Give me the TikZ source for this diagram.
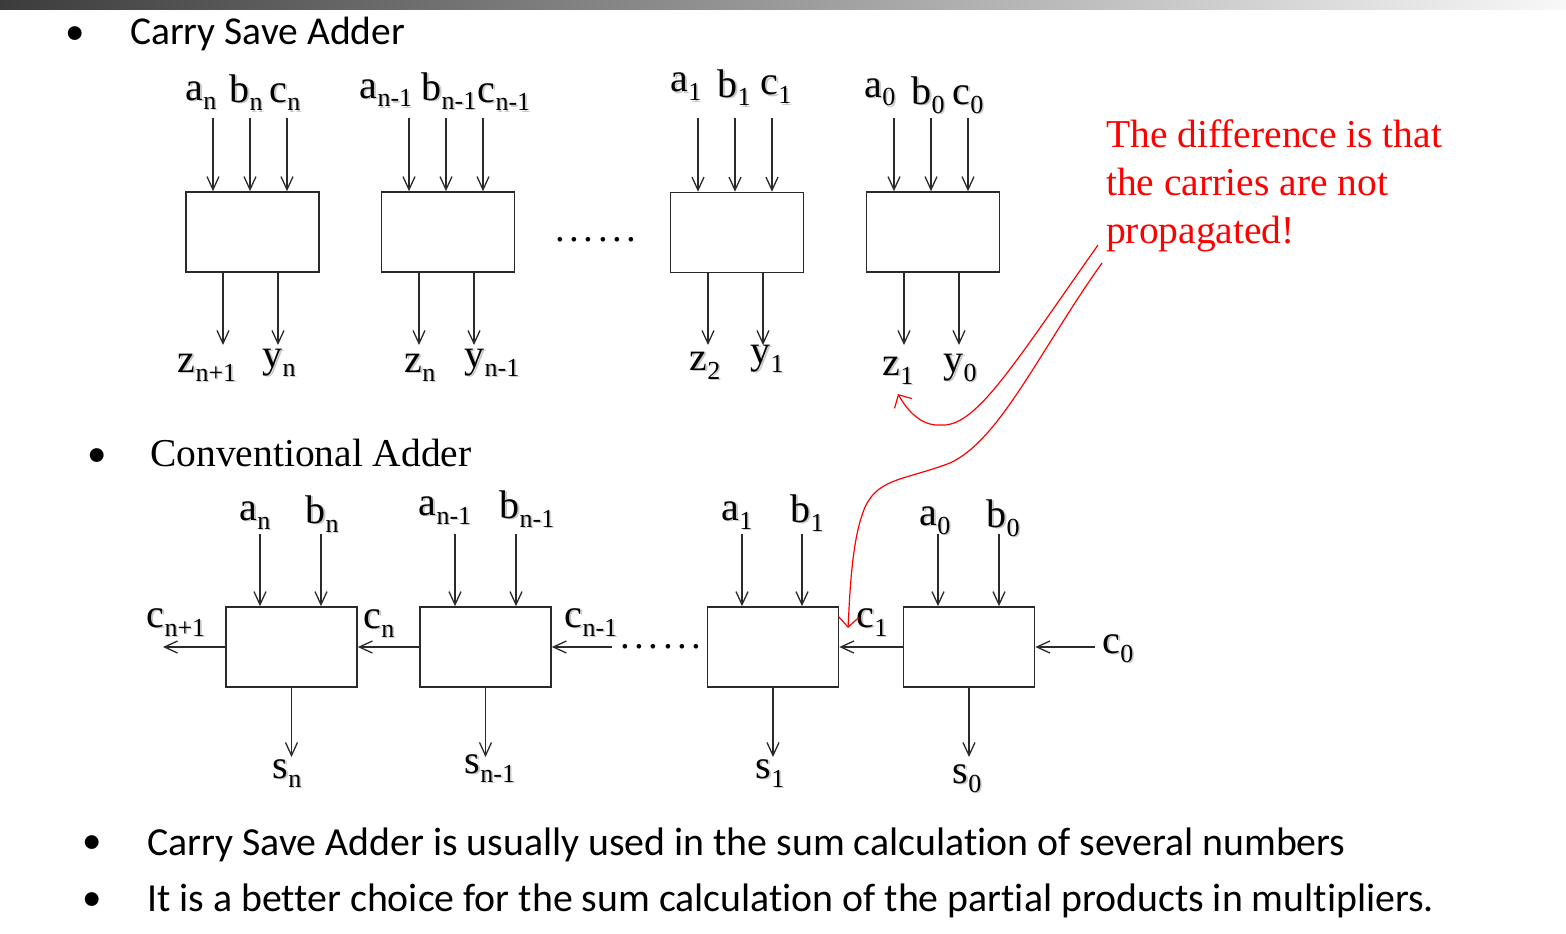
\documentclass[tikz,border=0pt]{standalone}
\usepackage{fontspec}
\setmainfont{Liberation Serif}
\newfontfamily\calibri[Ligatures=NoCommon]{Carlito}
\usetikzlibrary{arrows.meta}
\definecolor{boxline}{HTML}{2A2A2A}
\definecolor{barleft}{HTML}{3C3C3C}
\definecolor{barright}{HTML}{F8F8F8}
\definecolor{shadowgray}{HTML}{C8C8C8}
\newcommand{\lbtxt}[2]{#1\raisebox{-9pt}{\fontsize{26}{26}\selectfont #2}}
\newcommand{\lb}[2]{\makebox[0pt][l]{\hspace{1.6pt}\raisebox{-1.6pt}{\color{shadowgray}\lbtxt{#1}{#2}}}\lbtxt{#1}{#2}}
\begin{document}
\begin{tikzpicture}[x=1pt,y=-1pt,
  blk/.style={draw=boxline, line width=1.7pt, minimum width=133pt, minimum height=80pt, inner sep=0pt},
  blkb/.style={blk, minimum width=131pt},
  sig/.style={-{Straight Barb[length=13pt,width=12pt]}, line width=1.3pt, draw=boxline},
  redsig/.style={-{Straight Barb[length=10pt,width=20pt]}, line width=1.2pt, draw=red},
  lbl/.style={anchor=base, inner sep=0pt, font=\fontsize{40}{40}\selectfont},
  bul/.style={anchor=base, inner sep=0pt, font=\calibri\fontsize{39}{39}\selectfont},
  sans/.style={anchor=base west, inner sep=0pt, font=\calibri\fontsize{39.5}{39.5}\selectfont},
  sansb/.style={anchor=base west, inner sep=0pt, font=\calibri\fontsize{39.8}{39.8}\selectfont},
  serif/.style={anchor=base west, inner sep=0pt, font=\fontsize{39.5}{39.5}\selectfont},
  note/.style={anchor=base west, inner sep=0pt, text=red, font=\fontsize{39.5}{48}\selectfont},
  dots/.style={anchor=base, inner sep=0pt, font=\fontsize{39}{39}\selectfont}
]
\useasboundingbox (0,0) rectangle (1566,934);
\fill[white] (0,0) rectangle (1566,934);
\shade[left color=barleft, right color=barright] (0,0) rectangle (1566,10);

% headings
\node[bul] (bu1) at (75,45) {•};
\node[sans] (h1) at (130,45) {Carry Save Adder};
\node[bul] (bu2) at (97,466) {•};
\node[serif] (h2) at (150,466) {Conventional Adder};
\node[bul] (bu3) at (92,853) {•};
\node[sansb] (h3) at (147,855) {Carry Save Adder is usually used in the sum calculation of several numbers};
\node[bul] (bu4) at (92,910) {•};
\node[sansb] (h4) at (147,911) {It is a better choice for the sum calculation of the partial products in multipliers.};

% ---------- carry save adder ----------
\node[blk] (t1) at (252.5,232) {};
\node[blk] (t2) at (448,232) {};
\node[blk] (t3) at (737,232.5) {};
\node[blk] (t4) at (933,232) {};

\node[lbl] (lan) at (201,100) {\lb{a}{n}};
\node[lbl] (lbn) at (246,102) {\lb{b}{n}};
\node[lbl] (lcn) at (285,102) {\lb{c}{n}};
\node[lbl] (lam) at (386,98) {\lb{a}{n-1}};
\node[lbl] (lbm) at (449,100) {\lb{b}{n-1}};
\node[lbl] (lcm) at (504,102) {\lb{c}{n-1}};
\node[lbl] (la1) at (686,92) {\lb{a}{1}};
\node[lbl] (lb1) at (734,97) {\lb{b}{1}};
\node[lbl] (lc1) at (776,95) {\lb{c}{1}};
\node[lbl] (la0) at (880,97) {\lb{a}{0}};
\node[lbl] (lb0) at (928,104) {\lb{b}{0}};
\node[lbl] (lc0) at (968,104) {\lb{c}{0}};

\foreach \b/\x in {t1/213,t1/250,t1/287,t2/409,t2/446,t2/483,t3/698,t3/735,t3/772,t4/894,t4/931,t4/968}{
  \coordinate (s) at (\x,118);
  \draw[sig] (s) -- (s |- \b.north);
}
\foreach \b/\x in {t1/223,t1/278,t2/419,t2/474,t3/708,t3/763,t4/904,t4/959}{
  \coordinate (e) at (\x,345);
  \draw[sig] (e |- \b.south) -- (e);
}

\node[lbl] (lz1) at (207,372) {\lb{z}{n+1}};
\node[lbl] (ly1) at (279,367) {\lb{y}{n}};
\node[lbl] (lz2) at (420,372) {\lb{z}{n}};
\node[lbl] (ly2) at (492,367) {\lb{y}{n-1}};
\node[lbl] (lz3) at (705,370) {\lb{z}{2}};
\node[lbl] (ly3) at (767,363) {\lb{y}{1}};
\node[lbl] (lz4) at (898,375) {\lb{z}{1}};
\node[lbl] (ly4) at (960,372) {\lb{y}{0}};

\node[dots] (d1) at (596,241) {.\hspace{4.6pt}.\hspace{4.6pt}.\hspace{4.6pt}.\hspace{4.6pt}.\hspace{4.6pt}.};

% ---------- conventional adder ----------
\node[blkb] (c1) at (291.5,647) {};
\node[blkb] (c2) at (485.5,647) {};
\node[blkb] (c3) at (773,647) {};
\node[blkb] (c4) at (969,647) {};

\node[lbl] (ban) at (255,520) {\lb{a}{n}};
\node[lbl] (bbn) at (322,523) {\lb{b}{n}};
\node[lbl] (bam) at (445,515) {\lb{a}{n-1}};
\node[lbl] (bbm) at (527,518) {\lb{b}{n-1}};
\node[lbl] (ba1) at (737,520) {\lb{a}{1}};
\node[lbl] (bb1) at (807,522) {\lb{b}{1}};
\node[lbl] (ba0) at (935,525) {\lb{a}{0}};
\node[lbl] (bb0) at (1003,527) {\lb{b}{0}};

\foreach \b/\x in {c1/260,c1/321,c2/455,c2/516,c3/742,c3/802,c4/938,c4/999}{
  \coordinate (s) at (\x,534);
  \draw[sig] (s) -- (s |- \b.north);
}
\foreach \b in {c1,c2,c3,c4}{
  \coordinate (e) at (\b.south |- 0,757);
  \draw[sig] (\b.south) -- (e);
}

\coordinate (cout) at (163,647);
\coordinate (cmid) at (612,647);
\coordinate (cin) at (1095,647);
\draw[sig] (c1.west) -- (cout);
\draw[sig] (c2.west) -- (c1.east);
\draw[sig] (cmid) -- (c2.east);
\draw[sig] (c4.west) -- (c3.east);
\draw[sig] (cin) -- (c4.east);

\node[dots] (d2) at (661,648) {.\hspace{4.6pt}.\hspace{4.6pt}.\hspace{4.6pt}.\hspace{4.6pt}.\hspace{4.6pt}.};

\node[lbl] (bcp) at (176,627) {\lb{c}{n+1}};
\node[lbl] (bcn) at (379,628) {\lb{c}{n}};
\node[lbl] (bcm) at (591,627) {\lb{c}{n-1}};
\node[lbl] (bc1) at (872,627) {\lb{c}{1}};
\node[lbl] (bc0) at (1118,653) {\lb{c}{0}};

\node[lbl] (bsn) at (287,778) {\lb{s}{n}};
\node[lbl] (bsm) at (490,773) {\lb{s}{n-1}};
\node[lbl] (bs1) at (770,778) {\lb{s}{1}};
\node[lbl] (bs0) at (967,783) {\lb{s}{0}};

% ---------- red note ----------
\node[note] (n1) at (1106,147) {The difference is that};
\node[note] (n2) at (1106,195) {the carries are not};
\node[note] (n3) at (1106,243) {propagated!};

\coordinate (r1s) at (1098,245);
\coordinate (r1e) at (898,394);
\coordinate (r2s) at (1102,263);
\coordinate (r2e) at (848,628);
\draw[redsig] (r1s) .. controls (1010,370) and (975,428) .. (940,425)
   .. controls (922,426) and (908,412) .. (r1e);
\draw[redsig] (r2s) .. controls (1040,350) and (1000,440) .. (950,463)
   .. controls (905,480) and (880,478) .. (866,505)
   .. controls (852,535) and (850,590) .. (r2e);
\end{tikzpicture}
\end{document}
